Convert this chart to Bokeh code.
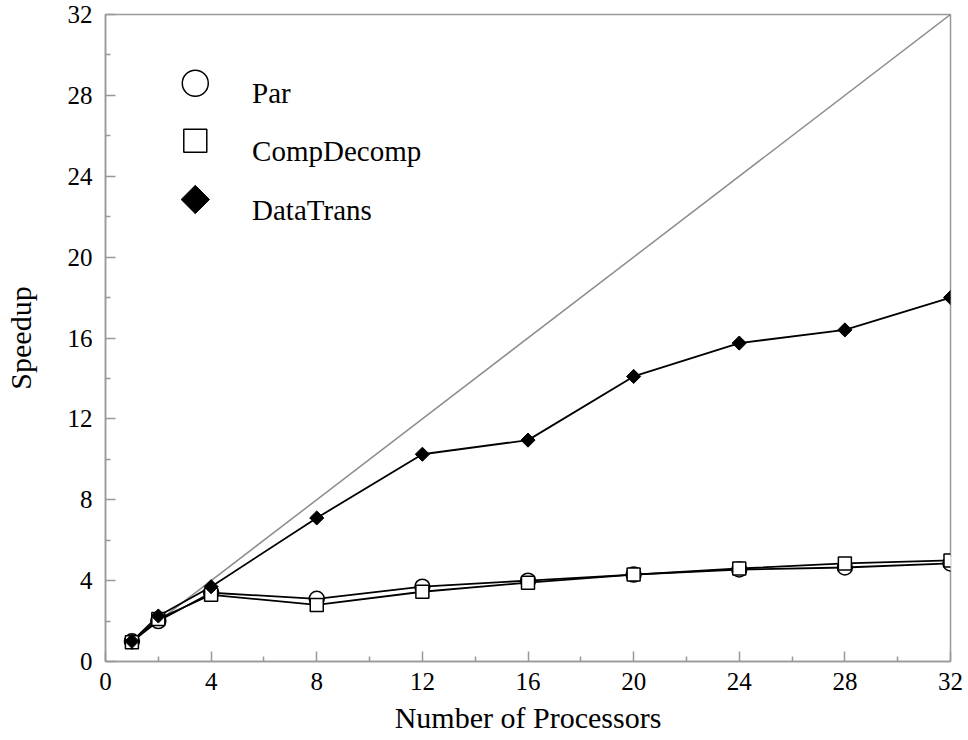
import math
from bokeh.plotting import figure
from bokeh.models import FixedTicker
from bokeh.core.properties import value
from bokeh.embed import file_html
from bokeh.resources import INLINE

processors = [1, 2, 4, 8, 12, 16, 20, 24, 28, 32]
par = [1.0, 2.0, 3.4, 3.1, 3.7, 4.0, 4.3, 4.55, 4.65, 4.85]
compdecomp = [0.95, 2.1, 3.3, 2.8, 3.45, 3.9, 4.3, 4.6, 4.85, 5.0]
datatrans = [1.0, 2.25, 3.7, 7.1, 10.25, 10.95, 14.1, 15.75, 16.4, 18.0]
ideal_x = [1, 32]
ideal_y = [1, 32]
major_ticks = [0, 4, 8, 12, 16, 20, 24, 28, 32]
minor_ticks = [2, 6, 10, 14, 18, 22, 26, 30]
legend_labels = ["Par", "CompDecomp", "DataTrans"]

FONT = "Liberation Serif"
GRAY = "#999999"

p = figure(width=964, height=740, x_range=(0, 32), y_range=(0, 32),
           output_backend="svg", toolbar_location=None,
           min_border_left=104, min_border_right=14, min_border_top=14, min_border_bottom=79)
p.grid.visible = False
p.outline_line_color = GRAY
p.outline_line_width = 1.5

for ax in (p.xaxis[0], p.yaxis[0]):
    ax.ticker = FixedTicker(ticks=major_ticks, minor_ticks=minor_ticks)
    ax.axis_line_color = GRAY
    ax.axis_line_width = 1.5
    ax.major_tick_line_color = GRAY
    ax.minor_tick_line_color = GRAY
    ax.major_tick_line_width = 1.5
    ax.minor_tick_line_width = 1.5
    ax.major_tick_in = 10
    ax.major_tick_out = 0
    ax.minor_tick_in = 5
    ax.minor_tick_out = 0
    ax.major_label_text_font = FONT
    ax.major_label_text_font_size = "25px"
    ax.major_label_text_color = "black"
    ax.axis_label_text_font = FONT
    ax.axis_label_text_font_size = "30px"
    ax.axis_label_text_font_style = "normal"
    ax.axis_label_text_color = "black"

p.xaxis.axis_label = "Number of Processors"
p.yaxis.axis_label = "Speedup"
p.xaxis.major_label_standoff = 11
p.yaxis.major_label_standoff = 13
p.xaxis.axis_label_standoff = 8
p.yaxis.axis_label_standoff = 28

# ideal speedup
p.line(ideal_x, ideal_y, line_color="#8c8c8c", line_width=1.5)

# series lines
p.line(processors, par, line_color="black", line_width=1.8)
p.line(processors, compdecomp, line_color="black", line_width=1.8)
p.line(processors, datatrans, line_color="black", line_width=1.8)

# series markers
p.scatter(processors, par, marker="circle", size=15, fill_color="white",
          line_color="black", line_width=1.5)
p.scatter(processors, compdecomp, marker="square", size=13, fill_color="white",
          line_color="black", line_width=1.5)
p.scatter(processors, datatrans, marker="square", size=10, angle=math.pi / 4,
          fill_color="black", line_color="black", line_width=1)

# legend (drawn inside the plot, upper left)
LEG_MX = 3.4
LEG_TX = 5.55
LEG_Y = [28.6, 25.75, 22.85]
p.scatter([LEG_MX], [LEG_Y[0]], marker="circle", size=26, fill_color="white",
          line_color="black", line_width=1.5)
p.scatter([LEG_MX], [LEG_Y[1]], marker="square", size=23, fill_color="white",
          line_color="black", line_width=1.5)
p.scatter([LEG_MX], [LEG_Y[2]], marker="square", size=20, angle=math.pi / 4,
          fill_color="black", line_color="black", line_width=1)
p.text([LEG_TX] * 3, LEG_Y, text=legend_labels, text_font=value(FONT),
       text_font_size="29px", text_color="black", text_baseline="alphabetic",
       text_align="left", y_offset=10)

open("out.html", "w").write(file_html(p, INLINE))
